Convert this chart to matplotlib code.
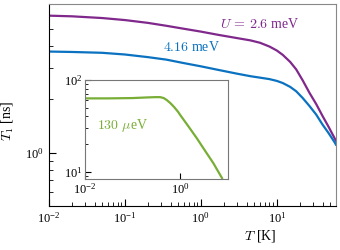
import matplotlib
matplotlib.use('Agg')
import matplotlib.pyplot as plt
from matplotlib.ticker import FixedLocator, NullLocator, NullFormatter

plt.rcParams['font.family'] = ['Liberation Serif', 'DejaVu Serif']
plt.rcParams['mathtext.fontset'] = 'cm'
plt.rcParams['font.size'] = 9

# main panel
T_main = [0.01, 0.02, 0.05, 0.1, 0.2, 0.35, 0.6, 1, 1.7, 3, 4.5, 6, 8, 10,
          12, 15, 18, 22, 27, 33, 40, 48, 58, 60]
T1_26 = [5.93, 5.88, 5.75, 5.6, 5.4, 5.2, 5.0, 4.82, 4.62, 4.43, 4.3, 4.17, 3.97, 3.77,
         3.56, 3.25, 2.95, 2.55, 2.17, 1.88, 1.61, 1.4, 1.2, 1.17]
T1_416 = [3.72, 3.70, 3.66, 3.58, 3.46, 3.35, 3.2, 3.07, 2.93, 2.79, 2.70, 2.65, 2.6, 2.54,
          2.47, 2.35, 2.22, 2.03, 1.83, 1.64, 1.44, 1.29, 1.14, 1.11]

# inset
T_ins = [0.01, 0.03, 0.1, 0.2, 0.3, 0.38, 0.45, 0.52, 0.62, 0.75, 0.9, 1.0, 1.5,
         2.25, 3.3, 4.95, 7.55]
T1_130 = [63, 63, 63.5, 64.5, 65, 65, 63.5, 60.5, 56, 50.5, 45, 41.5, 31,
          23, 17, 12.4, 8.5]

purple = '#80288c'
blue = '#0a72c0'
green = '#78ae36'

fig = plt.figure(figsize=(3.4, 2.5), dpi=100)
ax = fig.add_axes([0.144, 0.176, 0.844, 0.808])
ax.plot(T_main, T1_26, color=purple, lw=1.6)
ax.plot(T_main, T1_416, color=blue, lw=1.6)
ax.set_xscale('log')
ax.set_yscale('log')
ax.set_xlim(0.01, 60)
ax.set_ylim(0.5, 6.9)
ax.yaxis.set_minor_formatter(NullFormatter())
ax.tick_params(which='both', direction='in', top=False, right=False)
ax.tick_params(which='major', length=5)
ax.tick_params(which='minor', length=3)
ax.spines['top'].set_color('#888888')
ax.spines['right'].set_color('#888888')
ax.set_xlabel(r'$T\ $[K]', fontsize=10)
ax.xaxis.set_label_coords(0.735, -0.11)
ax.set_ylabel(r'$T_1\ $[ns]', fontsize=10)
ax.yaxis.set_label_coords(-0.12, 0.42)
ax.annotate(r'$U\,=\,2.6$ meV', xy=(260 / 340, 1 - 24 / 250), xycoords='figure fraction',
            color=purple, ha='center', va='center', fontsize=10)
ax.annotate(r'$4.16$ meV', xy=(191.5 / 340, 1 - 47 / 250), xycoords='figure fraction',
            color=blue, ha='center', va='center', fontsize=10)

ins = fig.add_axes([0.25, 0.284, 0.42, 0.396])
ins.plot(T_ins, T1_130, color=green, lw=1.6)
ins.set_xscale('log')
ins.set_yscale('log')
ins.set_xlim(0.01, 10)
ins.set_ylim(8.3, 100)
ins.xaxis.set_major_locator(FixedLocator([1e-2, 1e0]))
ins.xaxis.set_minor_locator(NullLocator())
ins.yaxis.set_minor_formatter(NullFormatter())
ins.tick_params(which='both', direction='in', top=False, right=False, pad=2)
ins.tick_params(which='major', length=4)
ins.tick_params(which='minor', length=2.5)
for s in ins.spines.values():
    s.set_color('#777777')
ins.annotate(r'$130\ \mu$eV', xy=(122.5 / 340, 1 - 126 / 250), xycoords='figure fraction',
             color=green, ha='center', va='center', fontsize=10)

fig.savefig('out.png', dpi=100)
